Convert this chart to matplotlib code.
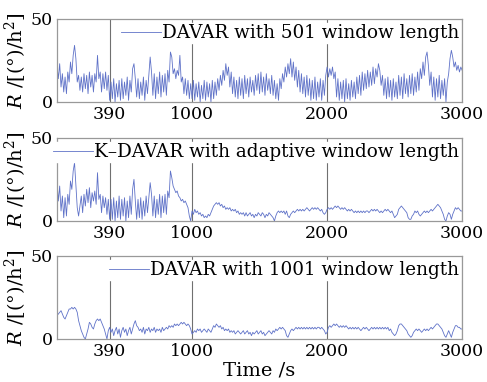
import numpy as np
import matplotlib
matplotlib.use("Agg")
import matplotlib.pyplot as plt

plt.rcParams['font.family'] = ['DejaVu Serif']
plt.rcParams['mathtext.fontset'] = 'dejavuserif'

# angular random walk estimates, sampled every 10 s (0 ... 3000 s)
dt = 10
r_davar501 = [
    22, 14, 23, 9, 17, 6, 15, 5, 18, 12, 24, 17, 28, 34, 26, 12, 16, 7, 15, 6,
    17, 8, 16, 5, 18, 9, 16, 6, 17, 12, 28, 14, 18, 6, 17, 8, 18, 7, 16, 1,
    12, 2, 14, 0, 11, 3, 13, 1, 14, 2, 12, 4, 15, 1, 13, 6, 20, 23, 14, 3,
    14, 2, 12, 4, 15, 1, 13, 5, 16, 27, 18, 4, 17, 2, 15, 5, 18, 3, 16, 6,
    17, 4, 19, 12, 30, 27, 17, 20, 14, 19, 16, 28, 12, 15, 5, 14, 4, 13, 2, 11,
    2, 13, 1, 11, 3, 12, 0, 10, 2, 13, 1, 12, 3, 11, 0, 13, 2, 12, 4, 14,
    7, 16, 10, 19, 13, 23, 16, 21, 9, 18, 5, 15, 3, 13, 2, 15, 4, 14, 2, 16,
    5, 14, 3, 15, 6, 13, 4, 16, 7, 17, 5, 18, 6, 15, 4, 17, 7, 14, 5, 16,
    4, 13, 2, 11, 1, 14, 8, 17, 12, 21, 15, 23, 17, 26, 15, 24, 13, 21, 9, 19,
    6, 17, 5, 15, 3, 16, 4, 14, 1, 13, 2, 15, 1, 12, 3, 14, 1, 13, 4, 16,
    21, 15, 20, 16, 21, 14, 18, 3, 14, 1, 12, 2, 13, 0, 14, 2, 11, 1, 13, 3,
    12, 2, 15, 5, 16, 4, 18, 7, 17, 8, 19, 9, 18, 10, 21, 11, 20, 15, 23, 19,
    10, 16, 4, 14, 2, 15, 3, 13, 1, 14, 3, 12, 2, 16, 4, 15, 2, 17, 5, 14,
    3, 16, 5, 17, 4, 15, 6, 18, 7, 20, 14, 24, 16, 27, 30, 22, 10, 18, 3, 15,
    1, 14, 3, 16, 2, 13, 4, 14, 0, 12, 17, 26, 31, 27, 21, 24, 19, 22, 18, 21,
    19]
r_kdavar = [
    23, 12, 21, 6, 15, 2, 14, 3, 16, 10, 24, 19, 30, 35, 22, 8, 3, 9, 15, 5,
    16, 9, 19, 11, 20, 8, 17, 12, 18, 10, 29, 13, 16, 5, 15, 8, 14, 4, 13, 1,
    13, 1, 14, 0, 12, 2, 15, 1, 13, 3, 14, 0, 12, 2, 15, 4, 19, 25, 12, 1,
    13, 2, 14, 1, 12, 3, 15, 5, 14, 23, 16, 3, 15, 2, 13, 4, 16, 2, 15, 5,
    16, 4, 18, 14, 30, 26, 21, 19, 17, 18, 15, 14, 12, 13, 11, 12, 10, 8, 3, 0,
    6, 4, 7, 5, 6, 4, 5, 3, 4, 2, 3, 2, 4, 3, 5, 7, 9, 10, 11, 10,
    11, 9, 10, 8, 9, 7, 8, 7, 8, 6, 7, 6, 7, 5, 6, 4, 5, 4, 5, 3,
    5, 3, 4, 5, 3, 4, 2, 4, 3, 5, 4, 3, 5, 4, 2, 4, 3, 5, 4, 3,
    2, 0, 3, 5, 6, 5, 6, 5, 6, 4, 6, 3, 2, 4, 5, 6, 5, 6, 7, 6,
    7, 6, 7, 6, 7, 8, 7, 6, 7, 8, 7, 8, 7, 8, 7, 6, 7, 5, 4, 5,
    7, 8, 7, 8, 7, 8, 9, 8, 9, 8, 7, 8, 7, 8, 7, 6, 7, 6, 7, 6,
    5, 6, 5, 6, 5, 6, 5, 6, 5, 6, 6, 5, 6, 7, 6, 7, 6, 7, 6, 5,
    6, 5, 6, 7, 6, 7, 6, 5, 6, 4, 2, 3, 4, 7, 8, 9, 8, 7, 6, 5,
    2, 1, 1, 3, 4, 6, 5, 6, 4, 3, 4, 5, 6, 5, 6, 5, 6, 7, 6, 7,
    8, 9, 10, 9, 8, 6, 4, 1, 0, 3, 5, 4, 1, 4, 6, 8, 7, 8, 7, 6,
    6]
r_davar1001 = [
    14, 15, 16, 17, 15, 13, 12, 14, 16, 18, 18, 19, 18, 19, 18, 16, 11, 8, 5, 3,
    1, 0, 3, 6, 10, 9, 7, 6, 9, 11, 12, 11, 12, 10, 8, 6, 3, 0, 5, 7,
    4, 6, 2, 5, 7, 3, 6, 1, 5, 7, 4, 6, 2, 5, 7, 3, 6, 9, 11, 8,
    7, 5, 6, 4, 7, 3, 6, 5, 7, 4, 6, 5, 7, 4, 6, 5, 6, 4, 7, 5,
    6, 7, 6, 8, 7, 8, 7, 9, 8, 9, 8, 9, 10, 9, 10, 9, 8, 9, 8, 6,
    3, 4, 5, 4, 6, 5, 6, 4, 5, 6, 5, 4, 6, 5, 4, 6, 8, 7, 9, 8,
    7, 8, 6, 7, 5, 6, 5, 6, 4, 5, 4, 5, 3, 4, 5, 4, 3, 4, 5, 3,
    4, 5, 3, 4, 2, 4, 3, 4, 5, 3, 4, 5, 3, 4, 2, 3, 4, 5, 4, 3,
    5, 4, 6, 5, 6, 7, 6, 7, 6, 5, 2, 1, 3, 5, 6, 5, 6, 7, 6, 7,
    6, 7, 6, 7, 6, 7, 6, 7, 6, 7, 6, 7, 6, 7, 7, 6, 7, 6, 5, 3,
    4, 7, 8, 7, 8, 9, 8, 9, 8, 7, 8, 7, 8, 7, 8, 7, 6, 7, 6, 7,
    6, 7, 6, 7, 6, 5, 6, 7, 6, 7, 6, 5, 6, 7, 6, 7, 6, 7, 6, 7,
    6, 7, 6, 7, 6, 7, 5, 6, 4, 3, 2, 3, 5, 8, 9, 9, 8, 7, 6, 5,
    3, 2, 1, 2, 4, 5, 6, 5, 6, 5, 4, 5, 6, 5, 6, 5, 6, 7, 6, 7,
    8, 9, 9, 8, 7, 6, 4, 2, 1, 3, 5, 3, 1, 4, 6, 8, 8, 7, 7, 6,
    6]

series = [r_davar501, r_kdavar, r_davar1001]
labels = ['DAVAR with 501 window length',
          'K\u2013DAVAR with adaptive window length',
          'DAVAR with 1001 window length']
xticks = [390, 1000, 2000, 3000]

fig = plt.figure(figsize=(4.87, 3.82), dpi=100)
bottoms = [0.733, 0.4215, 0.1126]
line_color = '#5f72c8'

for b, r, lab in zip(bottoms, series, labels):
    ax = fig.add_axes([0.117, b, 0.832, 0.218])
    t = np.arange(len(r)) * dt
    ax.plot(t, r, color=line_color, linewidth=0.6, label=lab)
    ax.set_xlim(0, 3000)
    ax.set_ylim(0, 50)
    ax.set_xticks(xticks)
    ax.set_yticks([0, 50])
    ax.tick_params(labelsize=12.5, length=0, pad=3)
    ax.grid(True, axis='x', color='#707070', linewidth=0.8)
    for sp in ax.spines.values():
        sp.set_color('#999999')
        sp.set_linewidth(0.9)
    ax.set_ylabel(r'$R$ /[(°)/h$^2$]', fontsize=14)
    ax.yaxis.set_label_coords(-0.068, 0.5)
    leg = ax.legend(loc='upper right', bbox_to_anchor=(1.0, 0.97), fontsize=13.2,
                    frameon=True, fancybox=False, borderaxespad=0.1, borderpad=0.05,
                    handlelength=2.2, handletextpad=0.05)
    leg.get_frame().set_edgecolor('white')
    leg.get_frame().set_alpha(1)

ax.set_xlabel('Time /s', fontsize=14, labelpad=1)

fig.savefig('out.png', dpi=100)
